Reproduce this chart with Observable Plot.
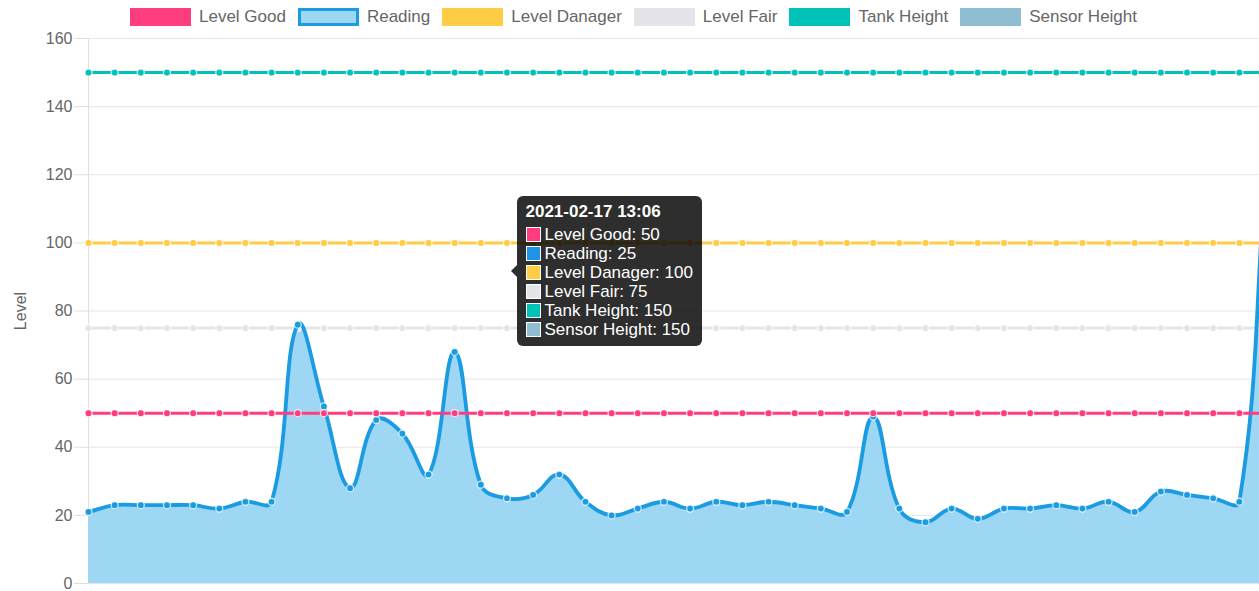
<!DOCTYPE html>
<html>
<head>
<meta charset="utf-8">
<script src="https://cdn.jsdelivr.net/npm/d3@7"></script>
<script src="https://cdn.jsdelivr.net/npm/@observablehq/plot@0.6"></script>
<style>
  html, body { margin: 0; padding: 0; background: #fff; }
  body { font-family: "Liberation Sans", Arial, Helvetica, sans-serif; }
  #wrap { position: relative; width: 1259px; height: 591px; overflow: hidden; }
  #legend { height: 30px; display: flex; justify-content: center; align-items: flex-start; gap: 12px; font-size: 17px; color: #666; box-sizing: border-box; padding-top: 8px; padding-left: 8px; }
  .item { display: flex; align-items: center; height: 18px; white-space: nowrap; }
  .box { width: 61px; height: 18px; margin-right: 8px; box-sizing: border-box; }
  #chart { width: 1259px; height: 561px; overflow: hidden; }
  #tip { position: absolute; background: rgba(0,0,0,0.82); color: #fff; border-radius: 6px; padding: 6px 9px 7px 8px; font-size: 17px; line-height: 19px; white-space: nowrap; transform: translateY(-50%); }
  #tip .title { font-weight: bold; margin-bottom: 4px; }
  #tip .row { display: flex; align-items: center; }
  #tip .sw { width: 15px; height: 15px; box-sizing: border-box; border: 1px solid #fff; margin-right: 3px; margin-left: 1px; }
  #tip .caret { position: absolute; left: -6px; top: 50%; margin-top: -6px; width: 0; height: 0; border-top: 6px solid transparent; border-bottom: 6px solid transparent; border-right: 6px solid rgba(0,0,0,0.82); }
</style>
</head>
<body>
<div id="wrap">
  <div id="legend"></div>
  <div id="chart"></div>
  <div id="tip"></div>
</div>
<script>
// ---- data ----
const seriesNames = ["Level Good", "Reading", "Level Danager", "Level Fair", "Tank Height", "Sensor Height"];
const seriesColors = ["#ff3d7e", "#1a9be2", "#ffcc45", "#e4e5e8", "#00c2b8", "#8fbdd1"];
const readingFill = "#9dd7f4";
const levelGood = 50;
const levelDanager = 100;
const levelFair = 75;
const tankHeight = 150;
const sensorHeight = 150;
const reading = [21, 23, 23, 23, 23, 22, 24, 24, 76, 52, 28, 48, 44, 32, 68, 29, 25, 26, 32, 24,
                 20, 22, 24, 22, 24, 23, 24, 23, 22, 21, 49, 22, 18, 22, 19, 22, 22, 23, 22, 24,
                 21, 27, 26, 25, 24, 120];
const yTicks = [0, 20, 40, 60, 80, 100, 120, 140, 160];
const yLabel = "Level";
const tooltipTitle = "2021-02-17 13:06";
const tooltipIndex = 16;

// ---- derived tables ----
const idx = reading.map((_, i) => i);
const constants = [levelGood, null, levelDanager, levelFair, tankHeight, sensorHeight];
const seriesData = seriesNames.map((name, s) =>
  idx.map(i => ({i, v: s === 1 ? reading[i] : constants[s], name})));

// Chart.js-like spline (tension 0.4) as a d3 curve
const TENSION = 0.4;
function ChartCurve(context) { this._context = context; }
ChartCurve.prototype = {
  areaStart() { this._line = 0; },
  areaEnd() { this._line = NaN; },
  lineStart() { this._pts = []; },
  point(x, y) { this._pts.push([+x, +y]); },
  lineEnd() {
    const p = this._pts, n = p.length, c = this._context;
    if (n) {
      if (this._line) c.lineTo(p[0][0], p[0][1]); else c.moveTo(p[0][0], p[0][1]);
      const cps = p.map((cur, i) => {
        const prev = p[i - 1] || cur, next = p[i + 1] || cur;
        const d01 = Math.hypot(cur[0] - prev[0], cur[1] - prev[1]);
        const d12 = Math.hypot(next[0] - cur[0], next[1] - cur[1]);
        let s01 = d01 / (d01 + d12), s12 = d12 / (d01 + d12);
        if (!isFinite(s01)) s01 = 0;
        if (!isFinite(s12)) s12 = 0;
        const fa = TENSION * s01, fb = TENSION * s12;
        return {
          px: cur[0] - fa * (next[0] - prev[0]), py: cur[1] - fa * (next[1] - prev[1]),
          nx: cur[0] + fb * (next[0] - prev[0]), ny: cur[1] + fb * (next[1] - prev[1])
        };
      });
      for (let i = 1; i < n; i++) {
        c.bezierCurveTo(cps[i - 1].nx, cps[i - 1].ny, cps[i].px, cps[i].py, p[i][0], p[i][1]);
      }
    }
    if (this._line || (this._line !== 0 && n === 1)) c.closePath();
    this._line = 1 - this._line;
  }
};
const chartCurve = ctx => new ChartCurve(ctx);

// ---- legend ----
const legend = document.getElementById("legend");
seriesNames.forEach((name, s) => {
  const it = document.createElement("div");
  it.className = "item";
  const b = document.createElement("div");
  b.className = "box";
  if (s === 1) { b.style.background = readingFill; b.style.border = "3px solid " + seriesColors[1]; }
  else b.style.background = seriesColors[s];
  const t = document.createElement("span");
  t.textContent = name;
  it.appendChild(b); it.appendChild(t);
  legend.appendChild(it);
});

// ---- chart ----
const seriesMarks = [];
[5, 4, 3, 2, 1, 0].forEach(s => {
  const curve = s === 1 ? chartCurve : "linear";
  seriesMarks.push(Plot.line(seriesData[s], {x: "i", y: "v", curve, stroke: seriesColors[s], strokeWidth: s === 1 ? 3.8 : 3}));
  seriesMarks.push(Plot.dot(seriesData[s], {x: "i", y: "v", r: 3.5, fill: seriesColors[s], stroke: "#ffffff", strokeOpacity: 0.75, strokeWidth: 1.3}));
});

const chart = Plot.plot({
  width: 1259,
  height: 561,
  marginLeft: 88,
  marginRight: 0,
  marginTop: 8,
  marginBottom: 8,
  style: {fontFamily: "'Liberation Sans', Arial, Helvetica, sans-serif", fontSize: "16px", color: "#666", background: "#fff", overflow: "hidden"},
  x: {domain: [0, reading.length - 1], range: [88, 1265], axis: null},
  y: {domain: [0, 160]},
  marks: [
    Plot.ruleY(yTicks, {stroke: "#e6e6e6", strokeWidth: 1}),
    Plot.ruleX([0], {stroke: "#e0e0e0", strokeWidth: 1}),
    Plot.axisY({ticks: yTicks, tickSize: 14, tickPadding: 2, stroke: "#e0e0e0", fill: "#666", fontSize: 16,
      label: yLabel, labelAnchor: "center", labelOffset: 74, labelArrow: "none"}),
    Plot.areaY(seriesData[1], {x: "i", y: "v", curve: chartCurve, fill: readingFill}),
    ...seriesMarks
  ]
});
document.getElementById("chart").appendChild(chart);

// ---- tooltip ----
const xs = chart.scale("x"), ys = chart.scale("y");
const tipVals = seriesData.map(d => d[tooltipIndex].v);
const avg = d3.mean(tipVals);
const tip = document.getElementById("tip");
const legendH = 30;
tip.style.left = (xs.apply(tooltipIndex) + 11) + "px";
tip.style.top = (ys.apply(avg) + legendH) + "px";
let html = '<div class="caret"></div><div class="title">' + tooltipTitle + '</div>';
seriesNames.forEach((name, s) => {
  const col = s === 1 ? "#1f93e8" : seriesColors[s];
  html += '<div class="row"><div class="sw" style="background:' + col + '"></div><span>' + name + ': ' + tipVals[s] + '</span></div>';
});
tip.innerHTML = html;
</script>
</body>
</html>
